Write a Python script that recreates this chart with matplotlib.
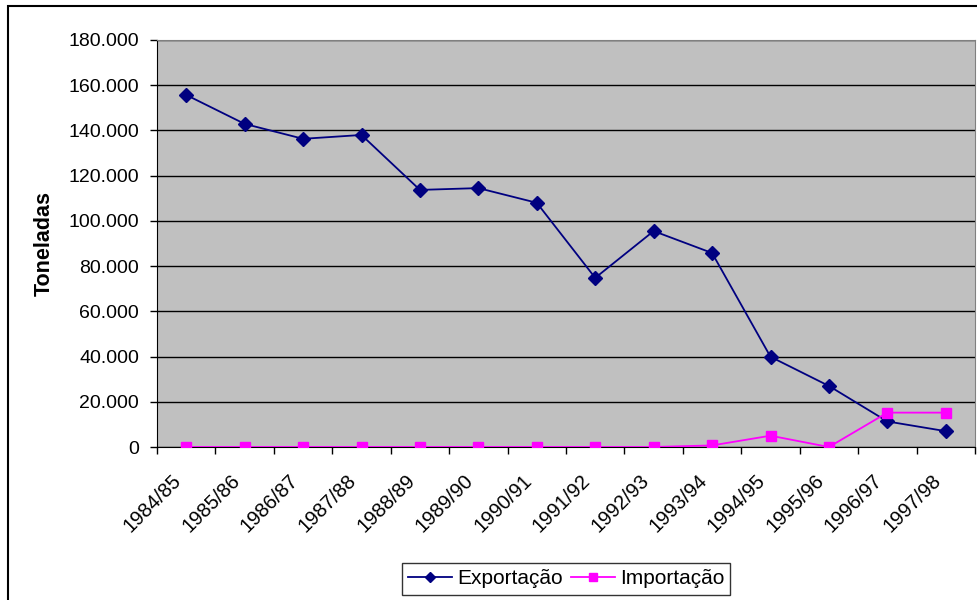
import numpy as np
import matplotlib.pyplot as plt
from matplotlib.patches import Rectangle
from matplotlib.transforms import ScaledTranslation
from matplotlib.ticker import FuncFormatter, FixedLocator

plt.rcParams['font.family'] = ['Liberation Sans', 'DejaVu Sans']

safras = ["1984/85", "1985/86", "1986/87", "1987/88", "1988/89", "1989/90",
          "1990/91", "1991/92", "1992/93", "1993/94", "1994/95", "1995/96",
          "1996/97", "1997/98"]
exportacao = [155700, 142900, 136300, 138000, 113700, 114500, 108000,
              74800, 95500, 85800, 39900, 27000, 11300, 7000]
importacao = [0, 0, 0, 0, 0, 0, 0, 0, 0, 700, 5000, 0, 15200, 15200]

fig = plt.figure(figsize=(9.77, 6.0), dpi=100)
ax = fig.add_axes([157 / 977, 1 - 447 / 600, (975 - 157) / 977, (447 - 40) / 600])

# moldura externa do gráfico
fig.patches.append(Rectangle((8 / 977, -0.1), 1.2, 1.1 - 6 / 600, transform=fig.transFigure,
                             fill=False, edgecolor="black", linewidth=1.5))

x = np.arange(len(safras))
ax.set_facecolor("#C0C0C0")
ax.plot(x, exportacao, color="#000080", marker="D", markersize=7, linewidth=1.3,
        label="Exportação", zorder=3)
ax.plot(x, importacao, color="#FF00FF", marker="s", markersize=7, linewidth=1.3,
        label="Importação", zorder=3)

ax.set_xlim(-0.5, len(safras) - 0.5)
ax.set_ylim(0, 180000)
ax.set_yticks(np.arange(0, 180001, 20000))
ax.yaxis.set_major_formatter(FuncFormatter(lambda v, p: f"{int(v):,}".replace(",", ".")))
ax.grid(axis="y", color="black", linewidth=1.0)
ax.set_axisbelow(True)

# ticks entre categorias, rótulos no centro
ax.xaxis.set_major_locator(FixedLocator(np.arange(-0.5, len(safras), 1.0)))
ax.xaxis.set_major_formatter(FuncFormatter(lambda v, p: ""))
ax.xaxis.set_minor_locator(FixedLocator(x))
ax.tick_params(axis="x", which="minor", length=0, pad=22)
ax.set_xticklabels(safras, minor=True, rotation=45, ha="right", va="center",
                   rotation_mode="anchor", fontsize=14.5)
desloc = ScaledTranslation(-0.08, 0.0, fig.dpi_scale_trans)
for lbl in ax.get_xticklabels(minor=True):
    lbl.set_transform(lbl.get_transform() + desloc)
ax.tick_params(axis="x", which="major", direction="out", length=5, width=1)
ax.tick_params(axis="y", direction="out", length=5, width=1, labelsize=14, pad=8)

for s in ["top", "right"]:
    ax.spines[s].set_color("#808080")
ax.spines["left"].set_color("black")
ax.spines["bottom"].set_color("black")

ax.set_ylabel("Toneladas", fontsize=15.5, fontweight="bold", labelpad=10)

leg = fig.legend(loc="center", bbox_to_anchor=(566 / 977, 1 - 579 / 600), ncol=2,
                 fontsize=15, frameon=True, fancybox=False, edgecolor="black",
                 handlelength=2.1, handletextpad=0.25, columnspacing=0.4,
                 borderpad=0.3, markerscale=0.75)
leg.get_frame().set_linewidth(1.0)

fig.savefig("out.png", dpi=100)
